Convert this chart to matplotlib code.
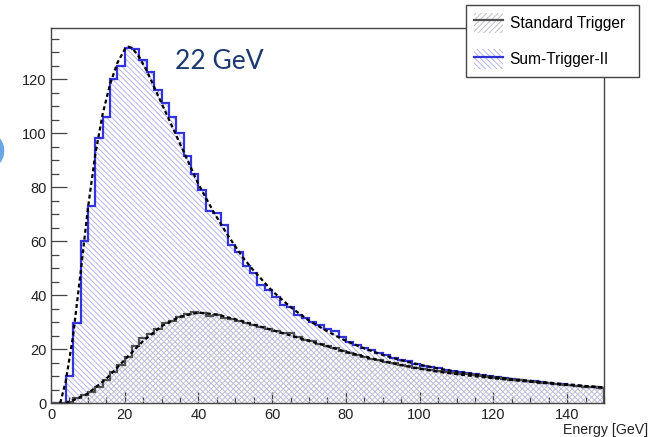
import numpy as np
import matplotlib
matplotlib.use("Agg")
import matplotlib.pyplot as plt
from matplotlib.patches import Patch, Ellipse
from matplotlib.lines import Line2D
from matplotlib.legend_handler import HandlerTuple
from matplotlib.ticker import MultipleLocator

# ---------------- data ----------------
bin_edges = np.arange(0, 152, 2)  # 2 GeV bins, 0..150

sum_trigger = [0, 0, 10, 29.7, 60, 73, 98, 106, 120, 125,
               131.5, 131, 127, 122.5, 116, 111, 106, 100, 91.5, 85,
               79, 71, 70.5, 66, 58.5, 56, 50.7, 48.3, 43.7, 42,
               39.4, 36.3, 35.7, 32.6, 31.5, 30, 29, 27.5, 26.5, 24.5,
               22.7, 21.5, 20.2, 19.5, 18.5, 17.8, 16.8, 16, 15.5, 14.5,
               13.7, 13.2, 12.8, 12.3, 12, 11.5, 11.2, 10.8, 10.3, 10,
               9.6, 9.3, 9, 8.6, 8.3, 8, 7.6, 7.3, 7, 6.9,
               6.6, 6.3, 6.1, 5.9, 5.6]

standard = [0, 0, 0.5, 1.8, 3, 4.2, 6, 8.5, 11.5, 14,
            17, 21, 24, 25.5, 27.5, 29.5, 30.5, 32, 32.8, 33.8,
            33.5, 32.2, 32.6, 31.5, 31, 30.5, 29.5, 29, 28, 27.3,
            26.6, 25.8, 26, 24.3, 23.5, 22.8, 21.8, 21, 20.2, 19.2,
            18.4, 17.8, 17.2, 16.4, 16, 15.3, 14.8, 14.2, 13.7, 13.1,
            12.5, 12.2, 11.8, 11.6, 11.1, 10.9, 10.6, 10.3, 9.9, 9.6,
            9.2, 8.9, 8.7, 8.4, 8.0, 7.8, 7.5, 7.3, 7.0, 6.8,
            6.6, 6.3, 6.1, 5.9, 5.7]

fit_sum_x = [2.5, 4, 6, 8, 10, 12, 14, 16, 18, 20, 21, 22, 24, 26, 28, 30,
             32, 34, 36, 38, 40, 42, 44, 46, 48, 50, 52, 55, 60, 65, 70,
             75, 80, 85, 90, 95, 100, 105, 110, 115, 120, 125, 130, 135,
             140, 145, 150]
fit_sum_y = [0, 8, 25, 48, 72, 92, 107, 118, 126, 131, 132, 131.5, 128,
             123, 117, 111, 105, 99, 93, 87, 81, 76, 71, 66.5, 62, 58, 54,
             49, 41.5, 35.5, 30.5, 26.5, 23, 20.2, 17.8, 15.8, 14.2, 12.8,
             11.6, 10.6, 9.7, 8.9, 8.2, 7.5, 6.9, 6.3, 5.8]

fit_std_x = [4, 6, 10, 15, 20, 25, 30, 35, 40, 45, 50, 55, 60, 65, 70, 75,
             80, 85, 90, 95, 100, 105, 110, 115, 120, 125, 130, 135, 140,
             145, 150]
fit_std_y = [0, 1, 3.5, 9, 16, 23, 28.5, 32, 33.5, 32.8, 31, 29, 27, 25,
             23, 21, 19, 17.2, 15.5, 14, 12.7, 11.6, 10.7, 9.9, 9.2, 8.5,
             7.9, 7.3, 6.7, 6.2, 5.7]

x_ticks = [0, 20, 40, 60, 80, 100, 120, 140]
y_ticks = [0, 20, 40, 60, 80, 100, 120]
labels = ["Standard Trigger", "Sum-Trigger-II"]

# ---------------- style ----------------
BLUE = "#3434dc"
BLUE_HATCH = "#b4b4ec"
GRAY = "#505050"
GRAY_HATCH = "#c0c0c8"
FRAME = "#444444"
BLUE_PATTERN = "\\" * 6
GRAY_PATTERN = "/" * 6
plt.rcParams["font.family"] = ["Liberation Sans", "DejaVu Sans"]
plt.rcParams["hatch.linewidth"] = 0.7

fig = plt.figure(figsize=(6.54, 4.37), dpi=100)
ax = fig.add_axes([0.078, 0.0778, 0.8455, 0.8581])

# fills (hatched, transparent)
ax.stairs(sum_trigger, bin_edges, fill=True, facecolor="none",
          edgecolor=BLUE_HATCH, hatch=BLUE_PATTERN, linewidth=0, zorder=1)
ax.stairs(standard, bin_edges, fill=True, facecolor="none",
          edgecolor=GRAY_HATCH, hatch=GRAY_PATTERN, linewidth=0, zorder=2)
# outlines
ax.stairs(sum_trigger, bin_edges, color=BLUE, linewidth=1.6, zorder=3)
ax.stairs(standard, bin_edges, color=GRAY, linewidth=1.6, zorder=4)
# fits
ax.plot(fit_sum_x, fit_sum_y, color="black", lw=1.6,
        linestyle=(0, (1.8, 1.3)), zorder=5)
ax.plot(fit_std_x, fit_std_y, color="black", lw=1.6,
        linestyle=(0, (1.8, 1.3)), zorder=5)

ax.set_xlim(0, 150)
ax.set_ylim(0, 138.9)
ax.set_xticks(x_ticks)
ax.set_yticks(y_ticks)
ax.xaxis.set_minor_locator(MultipleLocator(5))
ax.yaxis.set_minor_locator(MultipleLocator(5))
ax.tick_params(axis="both", which="both", direction="in", colors=FRAME,
               labelcolor="#222222", labelsize=10.5, width=0.9,
               top=False, right=False)
ax.tick_params(axis="y", which="major", length=11.5, pad=3)
ax.tick_params(axis="y", which="minor", length=5.8)
ax.tick_params(axis="x", which="major", length=8, pad=3.5)
ax.tick_params(axis="x", which="minor", length=4)
for s in ax.spines.values():
    s.set_color(FRAME)
    s.set_linewidth(1.0)

fig.text(0.991, 0.006, "Energy [GeV]", ha="right", va="baseline",
         fontsize=10.2, color="#222222")

ax.text(0.225, 0.91, "22 GeV", transform=ax.transAxes, fontsize=19,
        family="Lato", color="#1c3a70", ha="left", va="center")

# legend
h_std = (Patch(facecolor="none", edgecolor=GRAY_HATCH, hatch=GRAY_PATTERN, lw=0),
         Line2D([], [], color=GRAY, lw=1.6))
h_sum = (Patch(facecolor="none", edgecolor=BLUE_HATCH, hatch=BLUE_PATTERN, lw=0),
         Line2D([], [], color=BLUE, lw=1.6))
leg = fig.legend([h_std, h_sum], labels, loc="upper left",
                 bbox_to_anchor=(0.7125, 0.9886, 0.2645, 0.0), mode="expand",
                 handler_map={tuple: HandlerTuple(ndivide=1)},
                 fontsize=11.2, frameon=True, fancybox=False, shadow=False,
                 borderpad=0.5, handlelength=1.9, handleheight=1.6,
                 handletextpad=0.4, labelspacing=1.05, borderaxespad=0)
leg.get_frame().set_edgecolor(FRAME)
leg.get_frame().set_linewidth(1.0)
leg.get_frame().set_facecolor("white")
leg.get_frame().set_alpha(1)
leg.set_zorder(10)

# slide decoration at left edge
fig.patches.append(Ellipse((-0.012, 0.655), 0.035, 0.07,
                           transform=fig.transFigure, color="#6aa6e6",
                           figure=fig))

fig.savefig("out.png", dpi=100)
